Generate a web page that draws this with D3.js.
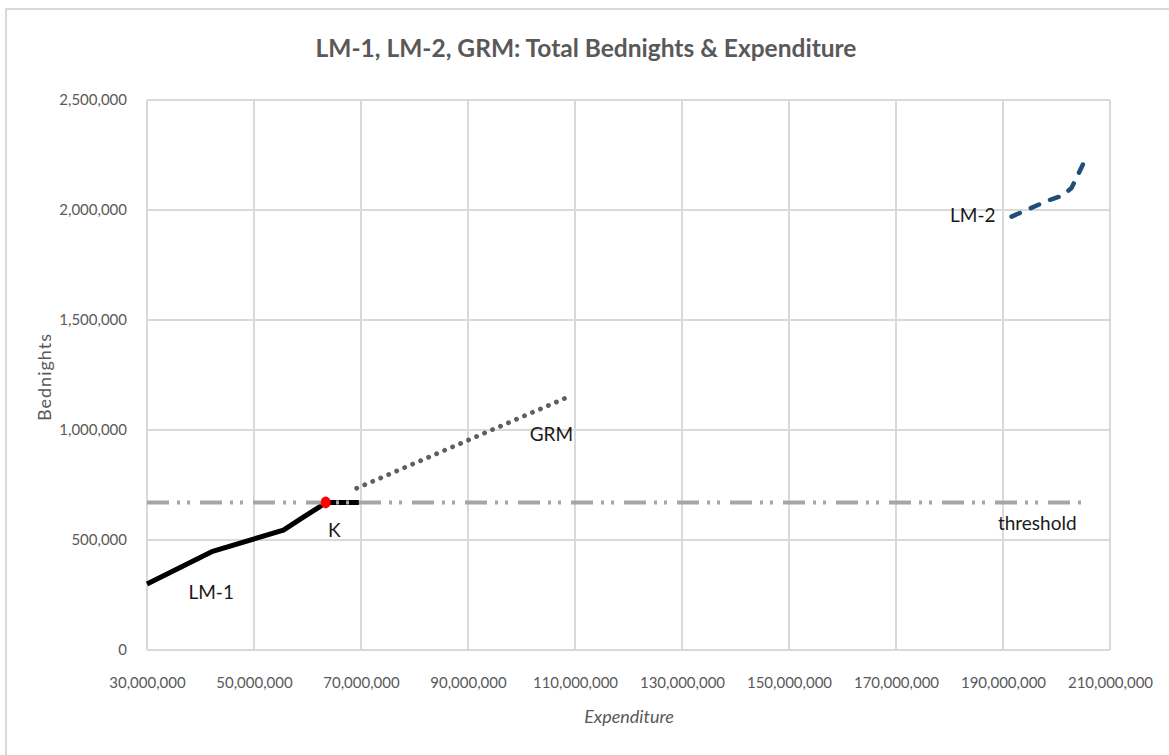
<!DOCTYPE html>
<html>
<head>
<meta charset="utf-8">
<script src="https://cdn.jsdelivr.net/npm/d3@7"></script>
<style>
  body { margin: 0; background: #fff; }
  text { font-family: Lato, "Open Sans", sans-serif; }
</style>
</head>
<body>
<svg width="1169" height="755"></svg>
<script>
var svg = d3.select("svg"),
    width = +svg.attr("width"),
    height = +svg.attr("height");

// data (expenditure, bednights)
var lm1X = [30000000, 42100000, 55500000, 59300000, 62400000, 63400000, 69600000];
var lm1Y = [300000, 447000, 545000, 605000, 653000, 671000, 671000];
var lm2X = [191600000, 198600000, 201100000, 202800000, 205400000];
var lm2Y = [1970000, 2045000, 2065000, 2100000, 2230000];
var grmX = [69200000, 108800000];
var grmY = [735000, 1151000];
var thresholdValue = 671000;
var thresholdRange = [30000000, 204900000];
var kPoint = [63400000, 671000];
var xTicks = [30000000, 50000000, 70000000, 90000000, 110000000, 130000000, 150000000, 170000000, 190000000, 210000000];
var yTicks = [0, 500000, 1000000, 1500000, 2000000, 2500000];

var margin = {left: 147, right: 59, top: 100, bottom: 105};

var x = d3.scaleLinear().domain([30000000, 210000000]).range([margin.left, width - margin.right]);
var y = d3.scaleLinear().domain([0, 2500000]).range([height - margin.bottom, margin.top]);
var fmt = d3.format(",");

// chart border
svg.append("path")
    .attr("d", "M6,760 V9 H1175")
    .attr("fill", "none")
    .attr("stroke", "#d9d9d9")
    .attr("stroke-width", 2);

// grid
svg.append("g").selectAll("line").data(xTicks).enter().append("line")
    .attr("x1", function(d) { return x(d); }).attr("x2", function(d) { return x(d); })
    .attr("y1", y(0)).attr("y2", y(2500000))
    .attr("stroke", "#d9d9d9").attr("stroke-width", 2);
svg.append("g").selectAll("line").data(yTicks).enter().append("line")
    .attr("x1", x(30000000)).attr("x2", x(210000000))
    .attr("y1", function(d) { return y(d); }).attr("y2", function(d) { return y(d); })
    .attr("stroke", "#d9d9d9").attr("stroke-width", 2);

// axes labels
var xAxis = svg.append("g")
    .attr("transform", "translate(0," + (y(0) + 24) + ")")
    .call(d3.axisBottom(x).tickValues(xTicks).tickFormat(fmt).tickSize(0));
xAxis.select(".domain").remove();
xAxis.selectAll("text").attr("fill", "#595959").style("font-size", "15px");

var yAxis = svg.append("g")
    .attr("transform", "translate(" + (x(30000000) - 17) + ",0)")
    .call(d3.axisLeft(y).tickValues(yTicks).tickFormat(fmt).tickSize(0));
yAxis.select(".domain").remove();
yAxis.selectAll("text").attr("fill", "#595959").style("font-size", "15px");

svg.append("text")
    .attr("x", 586).attr("y", 57)
    .attr("text-anchor", "middle")
    .attr("fill", "#595959")
    .style("font-size", "24.5px").style("font-weight", "bold")
    .text("LM-1, LM-2, GRM: Total Bednights & Expenditure");

svg.append("text")
    .attr("transform", "translate(51," + (y(1250000) + 2) + ") rotate(-90)")
    .attr("text-anchor", "middle")
    .attr("fill", "#595959")
    .style("font-size", "18px").style("letter-spacing", "1px")
    .text("Bednights");

svg.append("text")
    .attr("x", 629).attr("y", 723)
    .attr("text-anchor", "middle")
    .attr("fill", "#595959")
    .style("font-size", "18px").style("font-style", "italic")
    .text("Expenditure");

var line = d3.line()
    .x(function(d) { return x(d[0]); })
    .y(function(d) { return y(d[1]); });

// LM-1
svg.append("path")
    .datum(d3.zip(lm1X, lm1Y))
    .attr("d", line)
    .attr("fill", "none").attr("stroke", "#000")
    .attr("stroke-width", 5).attr("stroke-linejoin", "round");

// threshold
svg.append("line")
    .attr("x1", x(thresholdRange[0])).attr("x2", x(thresholdRange[1]))
    .attr("y1", y(thresholdValue)).attr("y2", y(thresholdValue))
    .attr("stroke", "#a6a6a6").attr("stroke-width", 4)
    .attr("stroke-dasharray", "22,8,3,7,3,10");

// GRM
svg.append("path")
    .datum(d3.zip(grmX, grmY))
    .attr("d", line)
    .attr("fill", "none").attr("stroke", "#5f5f5f")
    .attr("stroke-width", 4.8).attr("stroke-linecap", "round")
    .attr("stroke-dasharray", "0.1,8.6");

// LM-2
svg.append("path")
    .datum(d3.zip(lm2X, lm2Y))
    .attr("d", line)
    .attr("fill", "none").attr("stroke", "#1f4e79")
    .attr("stroke-width", 4.5).attr("stroke-linecap", "round")
    .attr("stroke-linejoin", "round")
    .attr("stroke-dasharray", "9,12");

// K point
svg.append("ellipse")
    .attr("cx", x(kPoint[0])).attr("cy", y(kPoint[1]))
    .attr("rx", 5).attr("ry", 6)
    .attr("fill", "#ff0000");

// labels on the lines
var labels = [
  {t: "LM-1", x: 42000000, y: 232000, a: "middle"},
  {t: "K", x: 65000000, y: 515000, a: "middle"},
  {t: "GRM", x: 105600000, y: 950000, a: "middle"},
  {t: "LM-2", x: 188600000, y: 1945000, a: "end"},
  {t: "threshold", x: 196400000, y: 545000, a: "middle"}
];
svg.append("g").selectAll("text").data(labels).enter().append("text")
    .attr("x", function(d) { return x(d.x); })
    .attr("y", function(d) { return y(d.y); })
    .attr("text-anchor", function(d) { return d.a; })
    .attr("fill", "#1a1a1a")
    .style("font-size", "19px")
    .text(function(d) { return d.t; });
</script>
</body>
</html>
